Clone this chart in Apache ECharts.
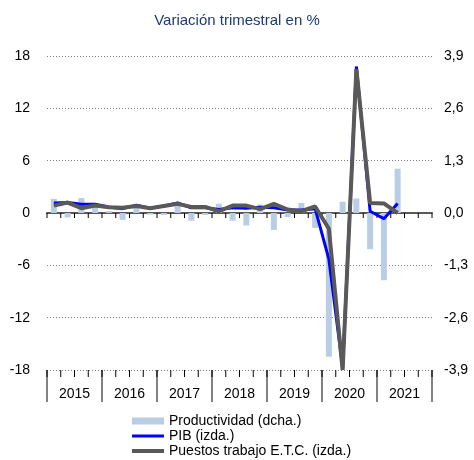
<!DOCTYPE html>
<html>
<head>
<meta charset="utf-8">
<script src="https://cdn.jsdelivr.net/npm/echarts@6/dist/echarts.min.js"></script>
<style>
  html, body { margin: 0; padding: 0; background: #fff; }
  #chart { width: 474px; height: 460px; }
</style>
</head>
<body>
<div id="chart"></div>
<script>
// trimestres 2015T1 - 2021T4 (datos hasta 2021T2)
var years = ['2015', '2016', '2017', '2018', '2019', '2020', '2021']
var quarters = []
years.forEach(function (y) {
  for (var q = 1; q <= 4; q++) quarters.push(y + 'T' + q)
})

var leftTicks = { min: -18, max: 18, interval: 6 }
var rightTicks = { min: -3.9, max: 3.9, interval: 1.3 }

// % variación trimestral
var pib = [1.15, 1.2, 1.0, 1.0, 0.7, 0.5, 0.9, 0.55, 0.8, 1.15, 0.6, 0.6, 0.4,
  0.6, 0.55, 0.65, 0.6, 0.35, 0.35, 0.5, -5.3, -17.7, 16.8, 0.2, -0.65, 1.1]
var puestos = [0.85, 1.2, 0.55, 0.85, 0.65, 0.6, 0.8, 0.55, 0.8, 1.05, 0.7, 0.7, 0.2,
  0.85, 0.85, 0.45, 1.05, 0.4, 0.2, 0.75, -1.8, -18, 16.5, 1.15, 1.1, 0.0]
var productividad = [0.35, -0.11, 0.37, 0.22, 0.05, -0.17, 0.19, -0.04, -0.05, 0.2, -0.19, -0.05, 0.23,
  -0.19, -0.31, 0.21, -0.42, -0.1, 0.25, -0.37, -3.57, 0.28, 0.36, -0.9, -1.67, 1.1]

var font = 'Liberation Sans, Arial, sans-serif'
var chart = echarts.init(document.getElementById('chart'))

// marcas trimestrales bajo la línea del 0 y en la base
function renderQuarterTicks(params, api) {
  var c = api.coord([api.value(0), 0])
  var w = api.size([1, 0])[0]
  var bottom = params.coordSys.y + params.coordSys.height
  var xs = [c[0] - w / 2]
  if (params.dataIndex === quarters.length - 1) xs.push(c[0] + w / 2)
  var children = []
  xs.forEach(function (x) {
    children.push({ type: 'line', shape: { x1: x, y1: c[1], x2: x, y2: c[1] + 5 }, style: { stroke: '#000', lineWidth: 1 } })
    children.push({ type: 'line', shape: { x1: x, y1: bottom, x2: x, y2: bottom + 7 }, style: { stroke: '#000', lineWidth: 1 } })
  })
  return { type: 'group', children: children }
}

var option = {
  animation: false,
  textStyle: { fontFamily: font },
  title: {
    text: 'Variación trimestral en %',
    left: 'center',
    top: 8,
    textStyle: { fontSize: 15, fontWeight: 'normal', color: '#1f3a70', fontFamily: font }
  },
  grid: { left: 47, right: 42, top: 56, bottom: 90 },
  legend: {
    orient: 'vertical',
    left: 130,
    top: 414,
    padding: 0,
    itemGap: 1,
    itemWidth: 32,
    itemHeight: 7,
    textStyle: { fontSize: 14, color: '#000', fontFamily: font },
    data: [
      { name: 'Productividad (dcha.)', icon: 'rect' },
      { name: 'PIB (izda.)', lineStyle: { width: 3 }, itemStyle: { opacity: 0 } },
      { name: 'Puestos trabajo E.T.C. (izda.)', lineStyle: { width: 4 }, itemStyle: { opacity: 0 } }
    ]
  },
  xAxis: [
    {
      type: 'category',
      data: quarters,
      position: 'bottom',
      axisLine: { show: true, onZero: true, lineStyle: { color: '#595959', width: 2 } },
      axisTick: { show: false },
      axisLabel: { show: false },
      splitLine: { show: false }
    },
    {
      type: 'category',
      data: years,
      position: 'bottom',
      axisLine: { show: false, onZero: false },
      axisTick: { show: true, interval: 0, length: 32, lineStyle: { color: '#595959', width: 1.5 } },
      axisLabel: { interval: 0, margin: 17, fontSize: 14, color: '#000', fontFamily: font }
    }
  ],
  yAxis: [
    {
      type: 'value',
      min: leftTicks.min,
      max: leftTicks.max,
      interval: leftTicks.interval,
      axisLine: { show: false },
      axisTick: { show: false },
      axisLabel: { margin: 17, fontSize: 14, color: '#000', fontFamily: font },
      splitLine: { lineStyle: { type: [1, 2], color: '#808080', width: 1 } }
    },
    {
      type: 'value',
      min: rightTicks.min,
      max: rightTicks.max,
      interval: rightTicks.interval,
      axisLine: { show: false },
      axisTick: { show: false },
      splitLine: { show: false },
      axisLabel: {
        margin: 12,
        fontSize: 14,
        color: '#000',
        fontFamily: font,
        formatter: function (v) { return v.toFixed(1).replace('.', ',') }
      }
    }
  ],
  series: [
    {
      type: 'custom',
      xAxisIndex: 0,
      yAxisIndex: 0,
      silent: true,
      clip: false,
      z: 1,
      renderItem: renderQuarterTicks,
      encode: { x: 0, y: 1 },
      data: quarters.map(function (q, i) { return [i, 0] })
    },
    {
      name: 'Productividad (dcha.)',
      type: 'bar',
      xAxisIndex: 0,
      yAxisIndex: 1,
      barWidth: 6,
      data: productividad,
      itemStyle: { color: '#b9cde5' }
    },
    {
      name: 'PIB (izda.)',
      type: 'line',
      xAxisIndex: 0,
      symbol: 'none',
      data: pib,
      lineStyle: { color: '#0000ff', width: 3 },
      itemStyle: { color: '#0000ff' }
    },
    {
      name: 'Puestos trabajo E.T.C. (izda.)',
      type: 'line',
      xAxisIndex: 0,
      symbol: 'none',
      data: puestos,
      lineStyle: { color: '#595959', width: 4 },
      itemStyle: { color: '#595959' }
    }
  ]
}

chart.setOption(option)
</script>
</body>
</html>
